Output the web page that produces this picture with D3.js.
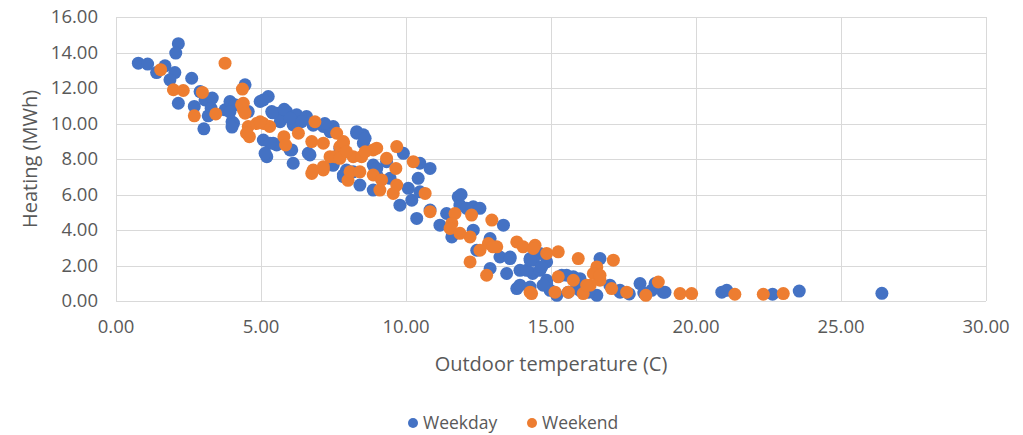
<!DOCTYPE html>
<html>
<head>
<meta charset="utf-8">
<script src="https://cdn.jsdelivr.net/npm/d3@7"></script>
<style>
body { margin: 0; background: #fff; }
svg text { font-family: "Open Sans", Lato, sans-serif; fill: #595959; }
.grid line { stroke: #d9d9d9; stroke-width: 1; }
</style>
</head>
<body>
<svg id="chart" width="1023" height="435"></svg>
<script>
// Weekday series (temperature C, heating MWh)
var weekdayTemp = [0.77,1.09,1.4,1.69,2.03,1.86,2.15,2.06,2.61,2.15,2.9,2.7,3.07,3.32,3.28,3.03,3.18,3.76,3.93,4.0,
  4.45,4.97,5.25,4.56,5.37,5.2,6.11,6.69,5.08,5.42,6.0,5.54,7.49,7.84,7.48,5.08,4.1,4.05,5.54,5.88,
  6.23,6.57,5.66,6.11,7.15,7.38,5.31,6.06,8.3,8.53,8.53,7.72,7.84,8.18,8.87,8.99,7.49,5.4,5.8,6.0,
  6.4,6.8,7.2,6.63,5.14,8.3,8.59,9.91,10.48,10.83,9.33,8.99,7.95,8.41,8.87,9.45,10.42,10.08,9.79,10.2,
  10.48,10.37,10.83,11.8,11.86,11.4,12.32,11.9,12.09,12.55,11.17,11.58,12.32,13.36,12.9,12.44,13.24,13.59,12.9,13.47,
  13.93,14.28,14.62,14.85,14.37,13.82,14.28,14.85,14.97,14.39,14.62,14.85,15.37,15.77,16.69,15.2,16.0,16.58,17.03,17.38,
  18.07,18.47,18.87,18.59,18.93,20.89,21.06,22.64,23.56,26.41,13.93,14.16,14.68,14.73,15.54,16.0,17.38,13.59,14.28,15.6,
  16.3,17.7,18.2,15.9,4.0,3.93];
var weekdayHeat = [13.4,13.35,12.87,13.25,12.87,12.46,14.5,13.97,12.55,11.14,11.8,10.96,11.33,11.43,10.86,9.7,10.43,10.77,11.24,10.1,
  12.18,11.24,11.52,10.67,10.67,8.13,7.76,8.23,9.07,8.89,8.51,8.79,9.83,7.0,7.66,11.33,11.05,10.02,10.58,10.67,
  10.49,10.39,10.1,9.92,9.83,9.54,8.89,8.51,9.45,9.36,8.89,8.61,7.1,7.28,7.66,7.1,7.66,10.6,10.8,10.3,
  10.1,9.9,10.0,8.32,8.32,9.54,9.17,8.32,7.76,7.47,7.85,7.47,7.38,6.53,6.25,6.91,6.91,6.35,5.4,5.68,
  6.15,4.65,5.12,5.87,5.4,4.93,5.31,6.0,5.22,5.22,4.27,3.61,3.99,4.27,3.52,2.86,2.48,2.48,1.83,1.55,
  1.73,2.39,2.68,2.2,1.55,0.7,0.79,1.17,0.6,2.3,1.73,0.98,1.45,1.36,2.39,0.32,0.6,0.32,0.89,0.6,
  0.98,0.6,0.5,0.98,0.5,0.5,0.6,0.38,0.56,0.43,0.89,1.73,1.92,0.89,1.45,1.26,0.5,2.39,2.3,0.5,
  0.5,0.4,0.45,0.9,9.8,10.66];

// Weekend series
var weekendTemp = [3.76,1.54,1.98,2.32,2.98,2.7,3.44,4.36,4.33,4.39,4.56,4.85,5.3,4.6,4.5,5.08,5.79,5.85,6.29,6.86,
  6.75,7.15,6.75,7.15,7.61,7.72,7.55,8.0,4.39,4.45,4.97,7.84,7.38,7.72,8.18,8.47,8.87,6.8,7.15,8.07,
  8.41,8.87,7.84,7.95,8.59,8.99,9.68,9.33,10.25,9.65,9.16,9.68,9.1,9.56,10.66,10.83,11.69,12.26,11.58,12.96,
  11.52,11.86,12.21,12.84,13.13,12.55,13.82,14.04,14.45,14.85,15.25,12.21,12.78,14.28,15.94,17.15,16.58,16.46,15.25,15.77,
  16.69,16.35,15.14,15.6,16.11,17.09,17.61,18.27,18.7,14.33,19.45,19.85,21.34,22.32,23.01,16.23,16.69,13.0,14.39];
var weekendHeat = [13.4,13.03,11.9,11.86,11.75,10.43,10.54,11.94,11.05,10.77,9.83,10.0,9.83,9.26,9.45,10.0,9.26,8.79,9.45,10.1,
  8.98,8.89,7.19,7.38,9.45,8.7,8.13,6.8,11.14,10.58,10.1,8.89,8.13,8.04,8.13,8.13,8.51,7.38,7.57,7.28,
  7.28,7.1,8.98,8.41,8.41,8.61,8.7,8.04,7.85,7.47,6.82,6.53,6.25,6.06,6.06,5.03,4.93,4.84,4.37,4.56,
  4.09,3.81,3.61,3.24,3.05,2.86,3.33,3.05,3.14,2.68,2.77,2.2,1.45,0.5,2.39,2.3,1.92,1.55,1.36,1.17,
  1.17,0.89,0.5,0.5,0.42,0.7,0.5,0.32,1.07,0.42,0.42,0.42,0.38,0.38,0.42,0.89,1.45,3.05,2.96];

var xTicks = [0, 5, 10, 15, 20, 25, 30];
var yTicks = [0, 2, 4, 6, 8, 10, 12, 14, 16];
var seriesNames = ["Weekday", "Weekend"];
var seriesColors = ["#4472C4", "#ED7D31"];

var svg = d3.select("#chart");
var m = { left: 116, top: 17, right: 37, bottom: 134 };
var w = 1023 - m.left - m.right, h = 435 - m.top - m.bottom;

var x = d3.scaleLinear().domain([0, 30]).range([m.left, m.left + w]);
var y = d3.scaleLinear().domain([0, 16]).range([m.top + h, m.top]);

// gridlines
svg.append("g").attr("class", "grid")
  .selectAll("line.h").data(yTicks).join("line")
  .attr("x1", x(0)).attr("x2", x(30))
  .attr("y1", d => Math.round(y(d)) + 0.5).attr("y2", d => Math.round(y(d)) + 0.5);
svg.append("g").attr("class", "grid")
  .selectAll("line.v").data(xTicks).join("line")
  .attr("y1", y(0)).attr("y2", y(16))
  .attr("x1", d => Math.round(x(d)) + 0.5).attr("x2", d => Math.round(x(d)) + 0.5);

// tick labels
svg.append("g").selectAll("text").data(yTicks).join("text")
  .attr("x", m.left - 18).attr("y", d => y(d)).attr("dy", "0.35em")
  .attr("text-anchor", "end").style("font-size", "18.5px")
  .text(d => d.toFixed(2));
svg.append("g").selectAll("text").data(xTicks).join("text")
  .attr("x", d => x(d)).attr("y", y(0) + 26).attr("dy", "0.35em")
  .attr("text-anchor", "middle").style("font-size", "18.5px")
  .text(d => d.toFixed(2));

// axis titles
svg.append("text").attr("x", x(15)).attr("y", 364).attr("dy", "0.35em")
  .attr("text-anchor", "middle").style("font-size", "20px")
  .text("Outdoor temperature (C)");
svg.append("text").attr("transform", "translate(30," + y(8) + ") rotate(-90)")
  .attr("dy", "0.35em").attr("text-anchor", "middle").style("font-size", "20px")
  .text("Heating (MWh)");

// points
var series = [
  d3.zip(weekdayTemp, weekdayHeat),
  d3.zip(weekendTemp, weekendHeat)
];
series.forEach(function(pts, i) {
  svg.append("g").selectAll("circle").data(pts).join("circle")
    .attr("cx", d => x(d[0])).attr("cy", d => y(d[1]))
    .attr("r", 6.5).attr("fill", seriesColors[i]);
});

// legend
var legX = [413, 532];
var leg = svg.append("g").selectAll("g").data(seriesNames).join("g")
  .attr("transform", (d, i) => "translate(" + legX[i] + ",423)");
leg.append("circle").attr("r", 5).attr("fill", (d, i) => seriesColors[i]);
leg.append("text").attr("x", 10).attr("dy", "0.35em").style("font-size", "17.5px").text(d => d);
</script>
</body>
</html>
